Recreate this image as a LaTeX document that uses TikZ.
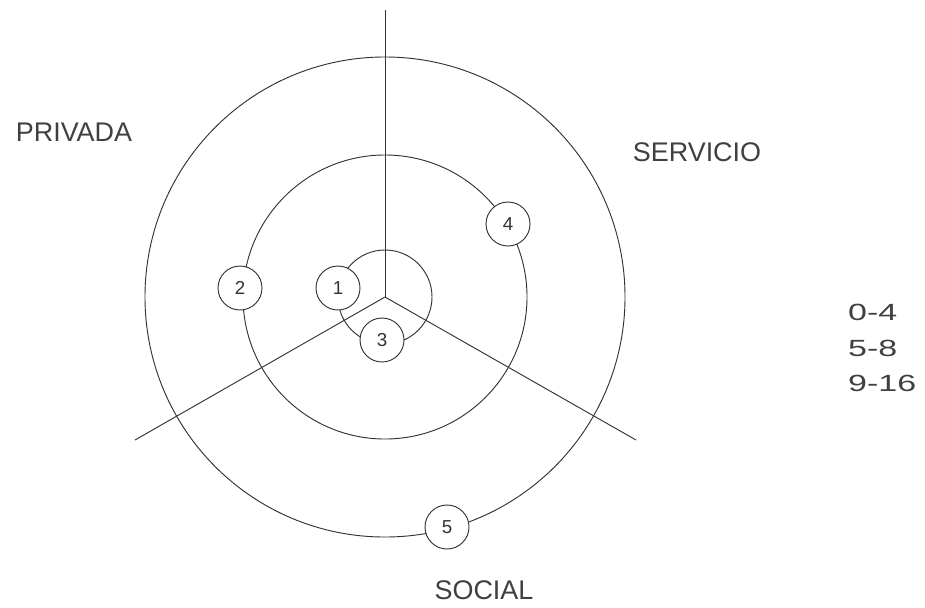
\documentclass[tikz,border=0pt]{standalone}
\usepackage{fontspec}
\setmainfont{Liberation Sans}
\begin{document}
\begin{tikzpicture}[x=0.03cm,y=-0.03cm,
  ln/.style={line width=0.8pt, draw=black!80},
  ring/.style={circle, ln, inner sep=0pt, fill=none},
  num/.style={circle, ln, fill=white, inner sep=0pt, minimum size=1.32cm, font=\fontsize{16}{16}\selectfont, text=black!80},
  lbl/.style={font=\fontsize{23}{23}\selectfont, text=black!75, inner sep=0pt},
  leg/.style={font=\fontsize{20}{20}\selectfont, text=black!75, inner sep=0pt, anchor=west}]
\useasboundingbox (0,0) rectangle (925,607);
\coordinate (O) at (385,297);
\coordinate (T) at (385,10);
\coordinate (L) at (135,440);
\coordinate (R) at (636,440);
\draw[ln] (O) -- (T);
\draw[ln] (O) -- (L);
\draw[ln] (O) -- (R);
\node[ring, minimum size=2.82cm] (inner) at (O) {};
\node[ring, minimum size=8.52cm] (middle) at (O) {};
\node[ring, minimum size=14.4cm] (outer) at (O) {};
\node[num] (n1) at (338,288) {1};
\node[num] (n2) at (240,288) {2};
\node[num] (n3) at (382,340) {3};
\node[num] (n4) at (508,224) {4};
\node[num] (n5) at (447,527) {5};
\node[lbl] (privada) at (74,132) {PRIVADA};
\node[lbl] (servicio) at (697,152) {SERVICIO};
\node[lbl] (social) at (484,590) {SOCIAL};
\node[leg] (l1) at (848,312) {\scalebox{1.45}[1]{0-4}};
\node[leg] (l2) at (848,348) {\scalebox{1.45}[1]{5-8}};
\node[leg] (l3) at (848,383) {\scalebox{1.45}[1]{9-16}};
\end{tikzpicture}
\end{document}
